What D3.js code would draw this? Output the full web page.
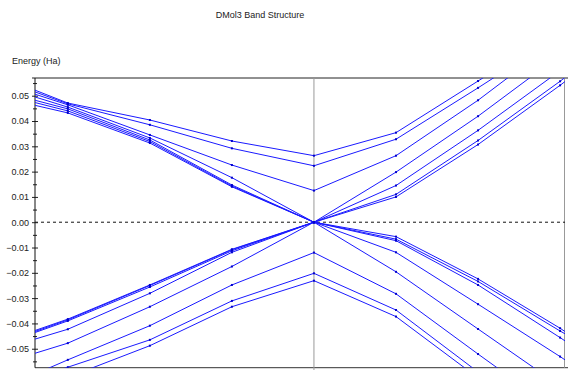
<!DOCTYPE html>
<html>
<head>
<meta charset="utf-8">
<script src="https://cdn.jsdelivr.net/npm/d3@7"></script>
<style>
  body { margin: 0; background: #fff; }
  text { font-family: "Liberation Sans", Arial, sans-serif; }
</style>
</head>
<body>
<div id="chart"></div>
<script>
// band structure (Ha)

var width = 568,
    height = 370;

// k positions (edge, 7 k-points, edge); Gamma at 3
var kPoints = [-0.4, 0, 1, 2, 3, 4, 5, 6, 6.06];

var majorTicks = [-0.05, -0.04, -0.03, -0.02, -0.01, 0.00, 0.01, 0.02, 0.03, 0.04, 0.05];
var minorTicks = [-0.055, -0.045, -0.035, -0.025, -0.015, -0.005, 0.005, 0.015, 0.025, 0.035, 0.045, 0.055];

// lower bands
var L1 = [-0.0663, -0.0613, -0.0488, -0.0334, -0.0231, -0.0373, -0.0615, -0.0860, -0.0876];
var L2 = [-0.0615, -0.0573, -0.0465, -0.0311, -0.0202, -0.0347, -0.0592, -0.0837, -0.0852];
var L3 = [-0.0600, -0.0544, -0.0409, -0.0248, -0.0120, -0.0283, -0.0521, -0.0754, -0.0770];
// lower cone
var C3 = [-0.0518, -0.0478, -0.0334, -0.0175, 0, -0.0196, -0.0422, -0.0647, -0.0663];
var C4 = [-0.0462, -0.0423, -0.0281, -0.0119, 0, -0.0119, -0.0324, -0.0531, -0.0544];
var C5 = [-0.0436, -0.0390, -0.0256, -0.0113, 0, -0.0073, -0.0248, -0.0456, -0.0469];
var C6 = [-0.0432, -0.0386, -0.0250, -0.0109, 0, -0.0067, -0.0234, -0.0430, -0.0441];
var C7 = [-0.0428, -0.0383, -0.0248, -0.0107, 0, -0.0057, -0.0224, -0.0419, -0.0432];
// upper cone
var C8  = [0.0462, 0.0432, 0.0313, 0.0140, 0, 0.0100, 0.0307, 0.0541, 0.0556];
var C9  = [0.0473, 0.0440, 0.0319, 0.0143, 0, 0.0110, 0.0323, 0.0557, 0.0572];
var C10 = [0.0482, 0.0448, 0.0325, 0.0147, 0, 0.0145, 0.0363, 0.0599, 0.0613];
var C11 = [0.0495, 0.0455, 0.0333, 0.0176, 0, 0.0198, 0.0419, 0.0660, 0.0676];
// upper bands
var U12 = [0.0506, 0.0464, 0.0345, 0.0226, 0.0125, 0.0263, 0.0482, 0.0727, 0.0740];
var U13 = [0.0515, 0.0468, 0.0385, 0.0292, 0.0223, 0.0328, 0.0531, 0.0740, 0.0752];
var U14 = [0.0522, 0.0471, 0.0404, 0.0321, 0.0263, 0.0354, 0.0558, 0.0764, 0.0776];

var bands = [L1, L2, L3, C3, C4, C5, C6, C7, C8, C9, C10, C11, U12, U13, U14];

var plotLeft = 35, plotRight = 565, plotTop = 78, plotBottom = 367.7;

var svg = d3.select("#chart").append("svg")
    .attr("width", width)
    .attr("height", height);

var x = d3.scaleLinear().domain([-0.4, 6.06]).range([plotLeft, plotRight]);
var y = d3.scaleLinear().domain([-0.0575, 0.057]).range([plotBottom, plotTop]);

svg.append("defs").append("clipPath").attr("id", "plot")
   .append("rect")
   .attr("x", plotLeft).attr("y", plotTop)
   .attr("width", plotRight - plotLeft).attr("height", plotBottom - plotTop);

// title + axis name
svg.append("text")
   .attr("x", 260).attr("y", 18)
   .attr("text-anchor", "middle")
   .attr("font-size", 9)
   .attr("fill", "#222")
   .text("DMol3 Band Structure");

svg.append("text")
   .attr("x", 12).attr("y", 64)
   .attr("font-size", 9)
   .attr("fill", "#222")
   .text("Energy (Ha)");

// frame
svg.append("line")
   .attr("x1", plotLeft - 3).attr("x2", width).attr("y1", plotTop).attr("y2", plotTop)
   .attr("stroke", "#222");
svg.append("line")
   .attr("x1", plotLeft).attr("x2", width).attr("y1", plotBottom).attr("y2", plotBottom)
   .attr("stroke", "#333");
svg.append("line")
   .attr("x1", plotRight - 0.5).attr("x2", plotRight - 0.5).attr("y1", plotTop).attr("y2", plotBottom)
   .attr("stroke", "#999");

// gamma line
svg.append("line")
   .attr("x1", x(3)).attr("x2", x(3)).attr("y1", plotTop).attr("y2", height)
   .attr("stroke", "#999");

// fermi level
svg.append("line")
   .attr("x1", plotLeft).attr("x2", plotRight).attr("y1", y(0)).attr("y2", y(0))
   .attr("stroke", "#111")
   .attr("stroke-dasharray", "3,3");

// y axis, ticks cross the line
var yAxis = svg.append("g")
   .attr("transform", "translate(" + plotLeft + ",0)")
   .call(d3.axisLeft(y).tickValues(majorTicks).tickSize(3).tickPadding(3)
          .tickFormat(d3.format(".2f")));
yAxis.select(".domain").remove();
yAxis.selectAll(".tick line").attr("x1", 3).attr("stroke", "#222");
yAxis.selectAll(".tick text")
   .attr("font-size", 9)
   .attr("font-family", "Liberation Sans, Arial, sans-serif")
   .attr("fill", "#222");

var yMinor = svg.append("g")
   .attr("transform", "translate(" + plotLeft + ",0)")
   .call(d3.axisLeft(y).tickValues(minorTicks).tickSize(2).tickFormat(""));
yMinor.select(".domain").remove();
yMinor.selectAll(".tick line").attr("x1", 2).attr("stroke", "#222");

svg.append("line")
   .attr("x1", plotLeft).attr("x2", plotLeft).attr("y1", plotTop).attr("y2", plotBottom)
   .attr("stroke", "#111");

// bands
var line = d3.line()
    .x(function(d, i) { return x(kPoints[i]); })
    .y(function(d) { return y(d); });

var g = svg.append("g").attr("clip-path", "url(#plot)");

g.selectAll("path.band")
   .data(bands)
   .enter().append("path")
   .attr("class", "band")
   .attr("d", line)
   .attr("fill", "none")
   .attr("stroke", "#1a1aff")
   .attr("stroke-width", 1);

// little markers at the k-points (skip the edge points)
bands.forEach(function(b) {
  g.selectAll(null)
     .data(b.slice(1, 8))
     .enter().append("rect")
     .attr("x", function(d, i) { return x(kPoints[i + 1]) - 1; })
     .attr("y", function(d) { return y(d) - 1; })
     .attr("width", 2).attr("height", 2)
     .attr("fill", "#0000cc");
});
</script>
</body>
</html>
